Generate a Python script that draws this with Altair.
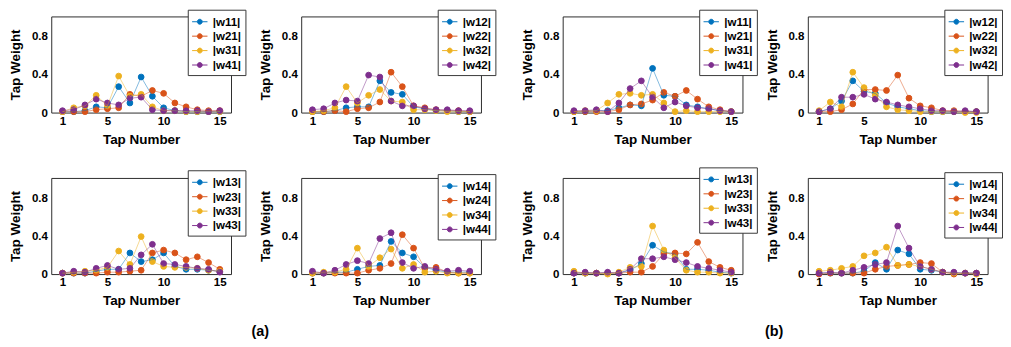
import altair as alt
import pandas as pd

taps = list(range(1, 16))
COLORS = ["#0072BD", "#D95319", "#EDB120", "#7E2F8E"]

# ---- group (a) ----
a_w11 = [0.01, 0.01, 0.02, 0.06, 0.05, 0.27, 0.10, 0.37, 0.17, 0.05, 0.02, 0.01, 0.01, 0.01, 0.01]
a_w21 = [0.01, 0.01, 0.01, 0.03, 0.04, 0.05, 0.19, 0.17, 0.23, 0.20, 0.10, 0.06, 0.03, 0.02, 0.02]
a_w31 = [0.01, 0.05, 0.07, 0.18, 0.07, 0.38, 0.17, 0.19, 0.06, 0.02, 0.02, 0.01, 0.01, 0.01, 0.01]
a_w41 = [0.02, 0.03, 0.08, 0.14, 0.10, 0.08, 0.15, 0.16, 0.03, 0.02, 0.02, 0.02, 0.02, 0.01, 0.02]

a_w12 = [0.01, 0.01, 0.02, 0.05, 0.06, 0.06, 0.33, 0.21, 0.19, 0.06, 0.04, 0.02, 0.02, 0.01, 0.01]
a_w22 = [0.01, 0.01, 0.02, 0.01, 0.04, 0.05, 0.11, 0.42, 0.27, 0.07, 0.05, 0.03, 0.02, 0.02, 0.01]
a_w32 = [0.01, 0.02, 0.05, 0.27, 0.10, 0.18, 0.24, 0.12, 0.11, 0.03, 0.03, 0.02, 0.01, 0.01, 0.01]
a_w42 = [0.03, 0.04, 0.10, 0.13, 0.12, 0.39, 0.37, 0.12, 0.07, 0.07, 0.04, 0.03, 0.03, 0.02, 0.02]

a_w13 = [0.01, 0.01, 0.01, 0.03, 0.05, 0.05, 0.22, 0.13, 0.15, 0.22, 0.08, 0.05, 0.05, 0.04, 0.03]
a_w23 = [0.01, 0.01, 0.01, 0.01, 0.02, 0.02, 0.03, 0.04, 0.22, 0.25, 0.22, 0.15, 0.18, 0.12, 0.05]
a_w33 = [0.01, 0.02, 0.03, 0.04, 0.07, 0.24, 0.10, 0.39, 0.13, 0.08, 0.07, 0.07, 0.06, 0.04, 0.03]
a_w43 = [0.01, 0.03, 0.02, 0.06, 0.09, 0.05, 0.06, 0.20, 0.31, 0.11, 0.10, 0.08, 0.06, 0.05, 0.02]

a_w14 = [0.01, 0.01, 0.02, 0.02, 0.05, 0.08, 0.09, 0.34, 0.22, 0.18, 0.07, 0.04, 0.02, 0.02, 0.02]
a_w24 = [0.01, 0.01, 0.01, 0.01, 0.01, 0.04, 0.06, 0.11, 0.41, 0.27, 0.06, 0.07, 0.02, 0.01, 0.01]
a_w34 = [0.01, 0.02, 0.02, 0.05, 0.27, 0.08, 0.17, 0.26, 0.06, 0.10, 0.02, 0.03, 0.01, 0.01, 0.01]
a_w44 = [0.03, 0.01, 0.04, 0.10, 0.14, 0.11, 0.37, 0.43, 0.12, 0.06, 0.08, 0.05, 0.03, 0.04, 0.03]

# ---- group (b) ----
b_w11 = [0.01, 0.01, 0.02, 0.02, 0.05, 0.08, 0.07, 0.46, 0.18, 0.17, 0.08, 0.06, 0.04, 0.02, 0.01]
b_w21 = [0.01, 0.01, 0.01, 0.01, 0.03, 0.08, 0.09, 0.13, 0.21, 0.17, 0.23, 0.14, 0.06, 0.03, 0.01]
b_w31 = [0.01, 0.02, 0.02, 0.10, 0.19, 0.20, 0.18, 0.19, 0.10, 0.01, 0.02, 0.01, 0.01, 0.01, 0.01]
b_w41 = [0.02, 0.02, 0.03, 0.01, 0.10, 0.25, 0.33, 0.16, 0.05, 0.11, 0.07, 0.05, 0.04, 0.02, 0.01]

b_w12 = [0.01, 0.04, 0.12, 0.33, 0.22, 0.20, 0.10, 0.06, 0.04, 0.02, 0.01, 0.01, 0.01, 0.01, 0.01]
b_w22 = [0.01, 0.01, 0.03, 0.09, 0.24, 0.24, 0.23, 0.39, 0.15, 0.07, 0.05, 0.02, 0.02, 0.01, 0.01]
b_w32 = [0.02, 0.11, 0.06, 0.42, 0.26, 0.18, 0.06, 0.03, 0.02, 0.01, 0.01, 0.01, 0.01, 0.00, 0.00]
b_w42 = [0.01, 0.04, 0.16, 0.16, 0.19, 0.14, 0.11, 0.08, 0.06, 0.04, 0.02, 0.02, 0.01, 0.02, 0.01]

b_w13 = [0.01, 0.01, 0.01, 0.01, 0.01, 0.04, 0.11, 0.30, 0.23, 0.21, 0.05, 0.05, 0.04, 0.02, 0.01]
b_w23 = [0.01, 0.01, 0.01, 0.01, 0.01, 0.02, 0.02, 0.08, 0.21, 0.22, 0.21, 0.33, 0.13, 0.07, 0.04]
b_w33 = [0.03, 0.01, 0.01, 0.00, 0.02, 0.07, 0.08, 0.50, 0.25, 0.17, 0.04, 0.02, 0.02, 0.01, 0.01]
b_w43 = [0.01, 0.02, 0.01, 0.02, 0.01, 0.05, 0.16, 0.16, 0.18, 0.15, 0.12, 0.08, 0.06, 0.04, 0.02]

b_w14 = [0.01, 0.01, 0.01, 0.01, 0.03, 0.12, 0.05, 0.25, 0.21, 0.05, 0.04, 0.02, 0.01, 0.01, 0.01]
b_w24 = [0.00, 0.01, 0.01, 0.01, 0.01, 0.05, 0.08, 0.09, 0.10, 0.12, 0.11, 0.02, 0.00, 0.01, 0.01]
b_w34 = [0.03, 0.04, 0.06, 0.08, 0.19, 0.22, 0.28, 0.09, 0.10, 0.08, 0.05, 0.02, 0.01, 0.01, 0.00]
b_w44 = [0.01, 0.02, 0.01, 0.04, 0.07, 0.10, 0.12, 0.50, 0.27, 0.08, 0.05, 0.02, 0.02, 0.01, 0.01]

FONT = "Liberation Sans"
LEG_PATH = ("M-1,0H-0.32M0.32,0H1"
            "M0.32,0A0.32,0.32,0,1,1,-0.32,0A0.32,0.32,0,1,1,0.32,0Z")


def panel(series, j, legend_y):
    labels = [f"|w{i}{j}|" for i in range(1, 5)]
    rows = []
    for lab, vals in zip(labels, series):
        for t, v in zip(taps, vals):
            rows.append({"tap": t, "weight": v, "series": lab})
    df = pd.DataFrame(rows)
    x = alt.X("tap:Q", scale=alt.Scale(domain=[0, 16], nice=False),
              axis=alt.Axis(values=[1, 5, 10, 15], title="Tap Number",
                            labelPadding=3, titlePadding=7))
    y = alt.Y("weight:Q", scale=alt.Scale(domain=[0, 1], nice=False),
              axis=alt.Axis(values=[0, 0.4, 0.8], title="Tap Weight",
                            labelExpr="datum.value == 0 ? '0' : format(datum.value, '.1f')",
                            labelPadding=4, titlePadding=9))
    sc = alt.Scale(domain=labels, range=COLORS)
    leg = alt.Legend(title=None, orient="none", legendX=142, legendY=legend_y,
                     symbolType=LEG_PATH, symbolSize=256, symbolStrokeWidth=1,
                     labelFont=FONT, labelFontWeight="bold", labelFontSize=12,
                     labelColor="black", strokeColor="#333333", fillColor="white",
                     padding=4, rowPadding=0, labelOffset=5, symbolOpacity=1)
    pts = alt.Chart(df).mark_circle(size=36, strokeWidth=1, opacity=1).encode(
        x=x, y=y,
        fill=alt.Fill("series:N", scale=sc, legend=leg),
        stroke=alt.Stroke("series:N", scale=sc, legend=leg))
    lines = alt.Chart(df).mark_line(strokeWidth=1, opacity=0.5).encode(
        x=x, y=y, color=alt.Color("series:N", scale=sc, legend=None), order="tap:Q")
    return alt.layer(pts, lines).properties(width=187, height=100)


RES = dict(color="independent", fill="independent", stroke="independent")


def build(row_gap, pad):
    def column(top, bottom):
        return alt.vconcat(top, bottom, spacing=row_gap, bounds="flush").resolve_scale(**RES)

    def group(c1, c2, name, spacing, dx):
        return alt.hconcat(c1, c2, spacing=spacing,
                           title=alt.TitleParams(name, orient="bottom", anchor="middle", font=FONT,
                                                 fontSize=15, fontWeight="bold", color="black",
                                                 offset=17, dx=dx)
                           ).resolve_scale(**RES)

    gA = group(column(panel([a_w11, a_w21, a_w31, a_w41], 1, -7),
                      panel([a_w13, a_w23, a_w33, a_w43], 3, -8)),
               column(panel([a_w12, a_w22, a_w32, a_w42], 2, -7),
                      panel([a_w14, a_w24, a_w34, a_w44], 4, -4)),
               "(a)", 12, 8)
    gB = group(column(panel([b_w11, b_w21, b_w31, b_w41], 1, -7),
                      panel([b_w13, b_w23, b_w33, b_w43], 3, -11)),
               column(panel([b_w12, b_w22, b_w32, b_w42], 2, -7),
                      panel([b_w14, b_w24, b_w34, b_w44], 4, -6)),
               "(b)", 7, 13)

    return alt.hconcat(gA, gB, spacing=24).resolve_scale(**RES).properties(
        padding=pad
    ).configure_axis(
        labelFont=FONT, labelFontWeight="bold", labelFontSize=12, labelColor="black",
        titleFont=FONT, titleFontWeight="bold", titleFontSize=14, titleColor="black",
        ticks=False, domain=False, grid=False
    ).configure_view(stroke="#262626", strokeWidth=1)


try:
    chart = build(68, {"top": -6, "bottom": 0, "left": 0, "right": 0})
    chart.to_dict()
except Exception:
    chart = build(60, 0)

chart.save("out.html", embed_options={"renderer": "svg", "actions": False})
